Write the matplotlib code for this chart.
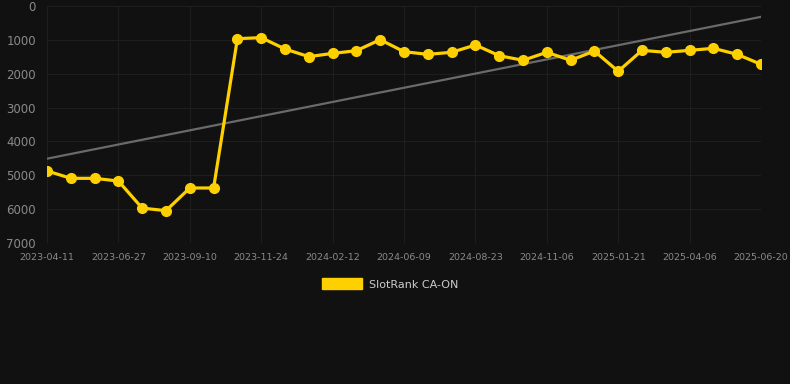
import numpy as np
import matplotlib.pyplot as plt
from matplotlib.patches import Patch

# rank values (lower is better, axis inverted)
ranks = [4870, 5090, 5090, 5170, 5970, 6045, 5375, 5375, 965, 935,
         1270, 1496, 1400, 1320, 995, 1350, 1428, 1368, 1152, 1467,
         1604, 1368, 1604, 1330, 1929, 1310, 1368, 1310, 1250, 1428,
         1723]
tick_labels = ["2023-04-11", "2023-06-27", "2023-09-10", "2023-11-24",
               "2024-02-12", "2024-06-09", "2024-08-23", "2024-11-06",
               "2025-01-21", "2025-04-06", "2025-06-20"]
trend_ends = [4510, 320]

bg = "#111111"
gold = "#FFD000"

x = np.arange(len(ranks))

fig = plt.figure(figsize=(7.9, 3.84), dpi=100, facecolor=bg)
ax = fig.add_axes([47 / 790, 141 / 384, 714 / 790, 237 / 384])
ax.set_facecolor(bg)

ax.plot([x[0], x[-1]], trend_ends, color="#6a6a6a", lw=1.6, zorder=2)
ax.plot(x, ranks, color=gold, lw=2.3, marker="o", ms=7, zorder=3)

ax.set_xlim(x[0], x[-1])
ax.set_ylim(7000, 0)
ax.set_yticks(np.arange(0, 7001, 1000))
ax.set_xticks(x[::3])
ax.set_xticklabels(tick_labels)

ax.grid(True, color="#1e1e1e", lw=0.8)
for s in ax.spines.values():
    s.set_visible(False)
ax.tick_params(axis="y", colors="#8a8a8a", labelsize=8.5, length=0, pad=8)
ax.tick_params(axis="x", colors="#8a8a8a", labelsize=6.8, length=0, pad=7)

handle = Patch(facecolor=gold, edgecolor=gold)
fig.legend([handle], ["SlotRank CA-ON"], loc="center",
           bbox_to_anchor=(390 / 790, 1 - 284 / 384),
           frameon=False, fontsize=8, labelcolor="#cccccc",
           handlelength=3.6, handleheight=1.1, handletextpad=0.6)

fig.savefig("out.png", dpi=100, facecolor=bg)
